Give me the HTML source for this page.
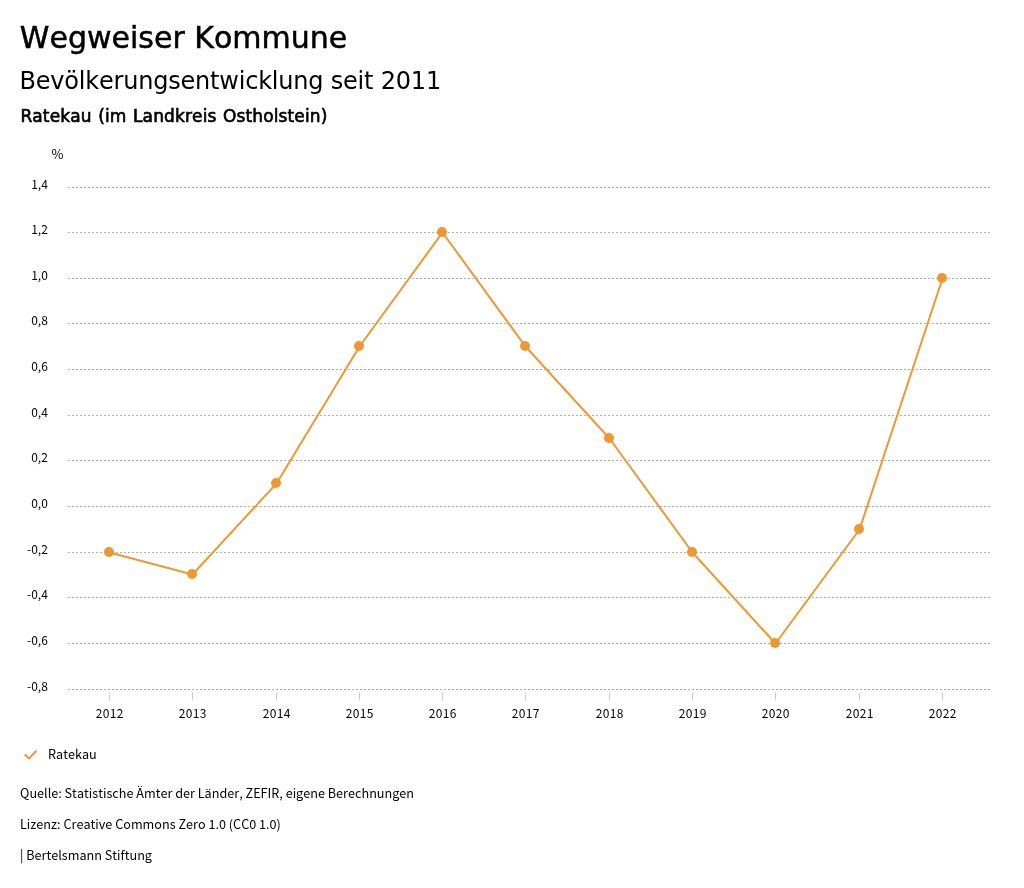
<!DOCTYPE html>
<html lang="de">
<head>
<meta charset="utf-8">
<title>Wegweiser Kommune</title>
<style>
html,body{margin:0;padding:0;background:#fff;}
body{width:1024px;height:888px;position:relative;overflow:hidden;font-family:"DejaVu Sans","Liberation Sans",sans-serif;color:#000;}
.t{position:absolute;font-kerning:none;left:20px;white-space:nowrap;margin:0;font-weight:normal;line-height:1;}
.h1{top:22.8px;left:19.8px;font-size:30px;-webkit-text-stroke:0.5px #000;}
.h2{top:68.5px;left:19.5px;font-size:24px;letter-spacing:-0.206px;}
.h3{top:108px;left:20.4px;font-size:17px;letter-spacing:0.125px;word-spacing:1px;-webkit-text-stroke:0.65px #000;}
.s{font-family:"Noto Sans CJK SC", "Noto Sans CJK JP", "Liberation Sans", sans-serif;font-size:12.65px;color:#000;}
svg{position:absolute;left:0;top:0;}
svg text{font-family:"Noto Sans CJK SC", "Noto Sans CJK JP", "Liberation Sans", sans-serif;font-size:12px;fill:#000;}
</style>
</head>
<body>
<h1 class="t h1">Wegweiser Kommune</h1>
<h2 class="t h2">Bevölkerungsentwicklung seit 2011</h2>
<h3 class="t h3">Ratekau (im Landkreis Ostholstein)</h3>
<svg width="1024" height="888" viewBox="0 0 1024 888">
<text x="63.6" y="159" text-anchor="end" style="font-size:13px">%</text>
<line x1="68" x2="990" y1="187.50" y2="187.50" stroke="#b0b0b0" stroke-width="1" stroke-dasharray="2 2"/>
<text x="47.8" y="189.00" text-anchor="end">1,4</text>
<line x1="68" x2="990" y1="232.50" y2="232.50" stroke="#b0b0b0" stroke-width="1" stroke-dasharray="2 2"/>
<text x="47.8" y="234.00" text-anchor="end">1,2</text>
<line x1="68" x2="990" y1="278.50" y2="278.50" stroke="#b0b0b0" stroke-width="1" stroke-dasharray="2 2"/>
<text x="47.8" y="280.00" text-anchor="end">1,0</text>
<line x1="68" x2="990" y1="323.50" y2="323.50" stroke="#b0b0b0" stroke-width="1" stroke-dasharray="2 2"/>
<text x="47.8" y="325.00" text-anchor="end">0,8</text>
<line x1="68" x2="990" y1="369.50" y2="369.50" stroke="#b0b0b0" stroke-width="1" stroke-dasharray="2 2"/>
<text x="47.8" y="371.00" text-anchor="end">0,6</text>
<line x1="68" x2="990" y1="415.50" y2="415.50" stroke="#b0b0b0" stroke-width="1" stroke-dasharray="2 2"/>
<text x="47.8" y="417.00" text-anchor="end">0,4</text>
<line x1="68" x2="990" y1="460.50" y2="460.50" stroke="#b0b0b0" stroke-width="1" stroke-dasharray="2 2"/>
<text x="47.8" y="462.00" text-anchor="end">0,2</text>
<line x1="68" x2="990" y1="506.50" y2="506.50" stroke="#b0b0b0" stroke-width="1" stroke-dasharray="2 2"/>
<text x="47.8" y="508.00" text-anchor="end">0,0</text>
<line x1="68" x2="990" y1="552.50" y2="552.50" stroke="#b0b0b0" stroke-width="1" stroke-dasharray="2 2"/>
<text x="47.8" y="554.00" text-anchor="end">-0,2</text>
<line x1="68" x2="990" y1="597.50" y2="597.50" stroke="#b0b0b0" stroke-width="1" stroke-dasharray="2 2"/>
<text x="47.8" y="599.00" text-anchor="end">-0,4</text>
<line x1="68" x2="990" y1="643.50" y2="643.50" stroke="#b0b0b0" stroke-width="1" stroke-dasharray="2 2"/>
<text x="47.8" y="645.00" text-anchor="end">-0,6</text>
<line x1="68" x2="990" y1="689.50" y2="689.50" stroke="#b0b0b0" stroke-width="1" stroke-dasharray="2 2"/>
<text x="47.8" y="691.00" text-anchor="end">-0,8</text>
<line x1="109.50" x2="109.50" y1="692.5" y2="700.5" stroke="#ccc" stroke-width="1"/>
<text x="109.70" y="718" text-anchor="middle" letter-spacing="0.33">2012</text>
<line x1="192.50" x2="192.50" y1="692.5" y2="700.5" stroke="#ccc" stroke-width="1"/>
<text x="192.70" y="718" text-anchor="middle" letter-spacing="0.33">2013</text>
<line x1="276.50" x2="276.50" y1="692.5" y2="700.5" stroke="#ccc" stroke-width="1"/>
<text x="276.70" y="718" text-anchor="middle" letter-spacing="0.33">2014</text>
<line x1="359.50" x2="359.50" y1="692.5" y2="700.5" stroke="#ccc" stroke-width="1"/>
<text x="359.70" y="718" text-anchor="middle" letter-spacing="0.33">2015</text>
<line x1="442.50" x2="442.50" y1="692.5" y2="700.5" stroke="#ccc" stroke-width="1"/>
<text x="442.70" y="718" text-anchor="middle" letter-spacing="0.33">2016</text>
<line x1="525.50" x2="525.50" y1="692.5" y2="700.5" stroke="#ccc" stroke-width="1"/>
<text x="525.70" y="718" text-anchor="middle" letter-spacing="0.33">2017</text>
<line x1="609.50" x2="609.50" y1="692.5" y2="700.5" stroke="#ccc" stroke-width="1"/>
<text x="609.70" y="718" text-anchor="middle" letter-spacing="0.33">2018</text>
<line x1="692.50" x2="692.50" y1="692.5" y2="700.5" stroke="#ccc" stroke-width="1"/>
<text x="692.70" y="718" text-anchor="middle" letter-spacing="0.33">2019</text>
<line x1="775.50" x2="775.50" y1="692.5" y2="700.5" stroke="#ccc" stroke-width="1"/>
<text x="775.70" y="718" text-anchor="middle" letter-spacing="0.33">2020</text>
<line x1="859.50" x2="859.50" y1="692.5" y2="700.5" stroke="#ccc" stroke-width="1"/>
<text x="859.70" y="718" text-anchor="middle" letter-spacing="0.33">2021</text>
<line x1="942.50" x2="942.50" y1="692.5" y2="700.5" stroke="#ccc" stroke-width="1"/>
<text x="942.70" y="718" text-anchor="middle" letter-spacing="0.33">2022</text>
<polyline points="109.5,552.5 192.5,574.5 276.5,483.5 359.5,346.5 442.5,232.5 525.5,346.5 609.5,438.5 692.5,552.5 775.5,643.5 859.5,529.5 942.5,278.5" fill="none" stroke="#ed9833" stroke-width="2" stroke-linejoin="round"/>
<circle cx="109.00" cy="552.00" r="5" fill="#ed9833"/>
<circle cx="192.00" cy="574.00" r="5" fill="#ed9833"/>
<circle cx="276.00" cy="483.00" r="5" fill="#ed9833"/>
<circle cx="359.00" cy="346.00" r="5" fill="#ed9833"/>
<circle cx="442.00" cy="232.00" r="5" fill="#ed9833"/>
<circle cx="525.00" cy="346.00" r="5" fill="#ed9833"/>
<circle cx="609.00" cy="438.00" r="5" fill="#ed9833"/>
<circle cx="692.00" cy="552.00" r="5" fill="#ed9833"/>
<circle cx="775.00" cy="643.00" r="5" fill="#ed9833"/>
<circle cx="859.00" cy="529.00" r="5" fill="#ed9833"/>
<circle cx="942.00" cy="278.00" r="5" fill="#ed9833"/>
<polyline points="24.6,754.6 29.1,758.4 36.4,750.7" fill="none" stroke="#ed9833" stroke-width="2"/>
</svg>
<div class="t s" style="left:48px;top:748px;">Ratekau</div>
<div class="t s" style="top:787.2px;">Quelle: Statistische Ämter der Länder, ZEFIR, eigene Berechnungen</div>
<div class="t s" style="top:818.2px;">Lizenz: Creative Commons Zero 1.0 (CC0 1.0)</div>
<div class="t s" style="top:849.2px;">| Bertelsmann Stiftung</div>
</body>
</html>
